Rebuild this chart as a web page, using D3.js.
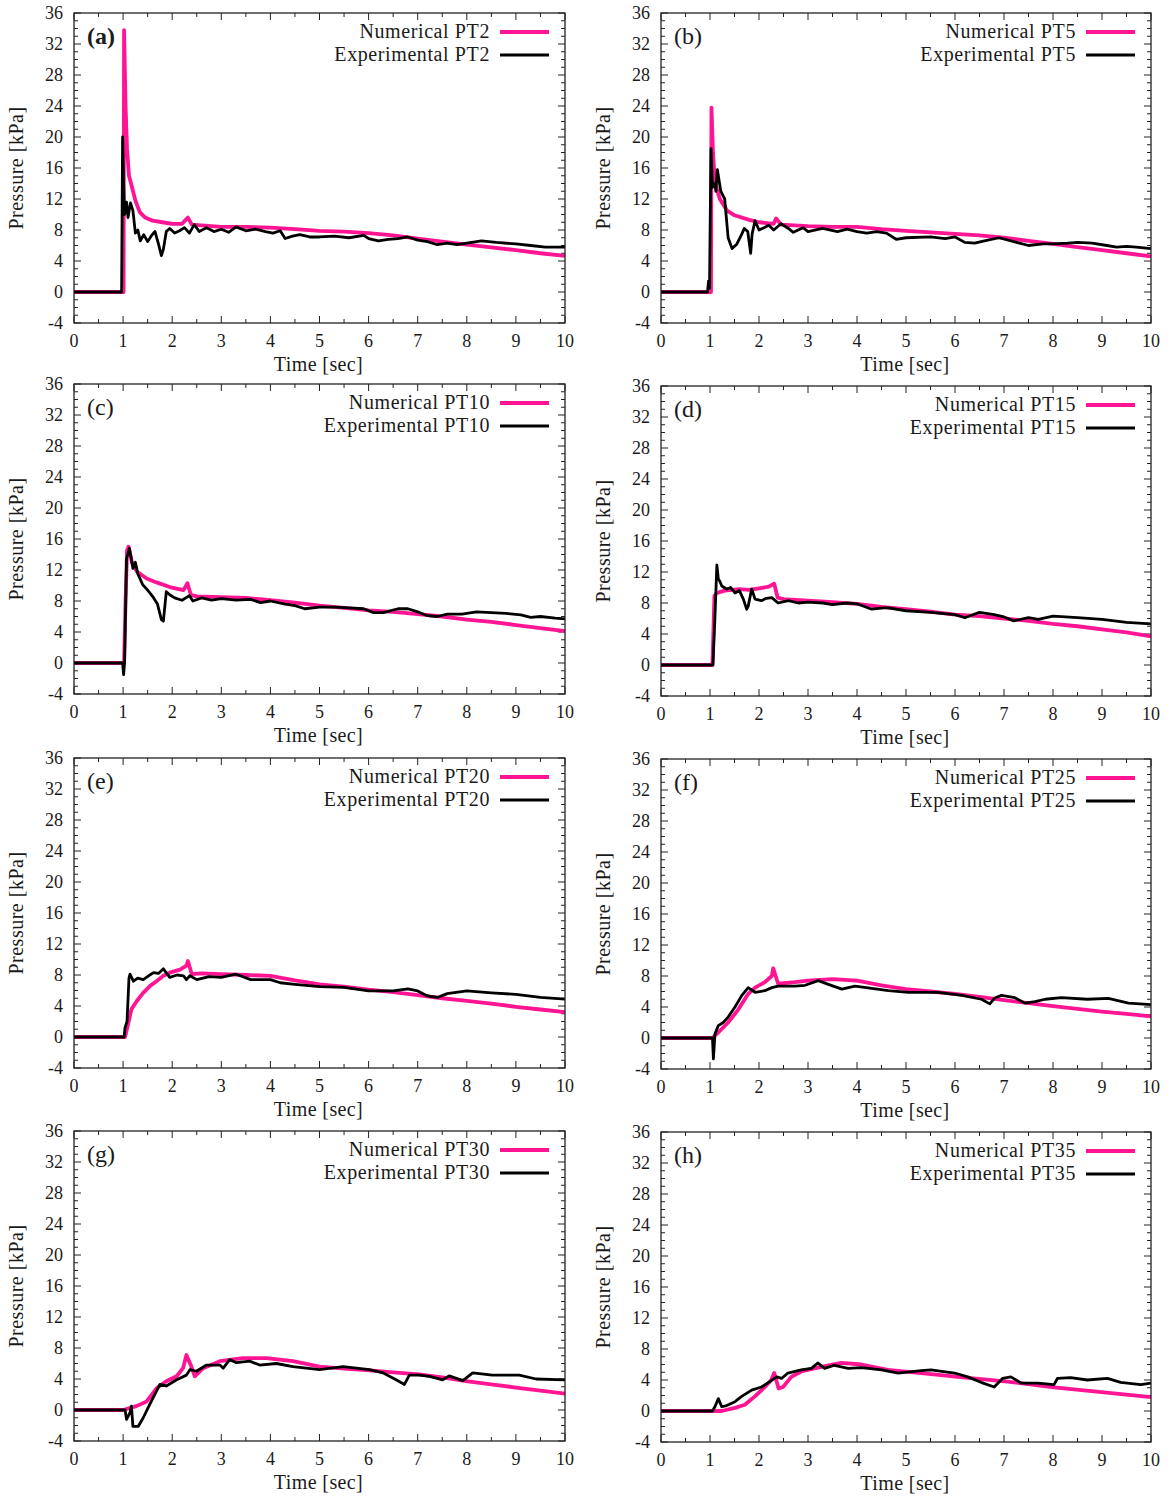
<!DOCTYPE html>
<html>
<head>
<meta charset="utf-8">
<script src="https://cdn.jsdelivr.net/npm/d3@7"></script>
<style>
  body { margin: 0; background: #fff; }
  svg text { font-family: "Liberation Serif", "Times New Roman", serif; fill: #1a1a1a; }
</style>
</head>
<body>
<svg width="1171" height="1497"></svg>
<script>
// ---- data: [time s, pressure kPa] ----
const panelLabels = ['(a)', '(b)', '(c)', '(d)', '(e)', '(f)', '(g)', '(h)'];
const probeNames = ['PT2', 'PT5', 'PT10', 'PT15', 'PT20', 'PT25', 'PT30', 'PT35'];
const xTicks = [0, 1, 2, 3, 4, 5, 6, 7, 8, 9, 10];
const yTicks = [-4, 0, 4, 8, 12, 16, 20, 24, 28, 32, 36];

const numPT2 = [[0,0],[1.0,0],[1.01,0],[1.02,33.8],[1.05,24],[1.08,18.5],[1.12,15],[1.17,13.8],[1.25,11.8],[1.34,10.3],[1.45,9.6],[1.6,9.2],[1.8,9.0],[2.0,8.8],[2.2,8.8],[2.32,9.6],[2.4,8.7],[2.6,8.6],[3.0,8.4],[3.5,8.4],[4.0,8.3],[4.5,8.1],[5.0,7.9],[5.5,7.8],[6.0,7.6],[6.5,7.3],[7.0,6.9],[7.5,6.5],[8.0,6.1],[8.5,5.75],[9.0,5.4],[9.5,5.0],[10.0,4.65]];
const expPT2 = [[0,0],[0.97,0],[0.99,20],[1.01,14],[1.03,10],[1.07,11.6],[1.1,9.6],[1.15,11.5],[1.2,10.5],[1.25,7.6],[1.3,8],[1.35,6.6],[1.42,7.4],[1.5,6.5],[1.58,7.3],[1.65,7.8],[1.72,6.2],[1.78,4.7],[1.82,5.5],[1.88,7.8],[1.95,8.2],[2.05,7.6],[2.15,7.9],[2.25,8.3],[2.35,7.6],[2.45,8.7],[2.55,7.8],[2.7,8.3],[2.85,7.8],[3.0,8.1],[3.15,7.7],[3.3,8.4],[3.5,7.9],[3.7,8.1],[3.9,7.8],[4.05,7.6],[4.2,7.9],[4.3,6.9],[4.45,7.2],[4.6,7.4],[4.8,7.1],[5.0,7.1],[5.3,7.2],[5.6,7.0],[5.9,7.3],[6.0,6.9],[6.2,6.6],[6.4,6.8],[6.6,6.9],[6.8,7.1],[7.0,6.7],[7.2,6.5],[7.4,6.1],[7.6,6.3],[7.8,6.1],[8.0,6.3],[8.3,6.6],[8.6,6.4],[9.0,6.2],[9.3,6.0],[9.6,5.8],[10.0,5.8]];
const numPT5 = [[0,0],[1.02,0],[1.03,23.8],[1.06,18],[1.1,14.2],[1.2,12],[1.35,10.5],[1.5,9.9],[1.8,9.3],[2.0,9.0],[2.3,8.8],[2.35,9.5],[2.45,8.7],[3.0,8.5],[3.5,8.4],[4.0,8.4],[4.5,8.1],[5.0,7.9],[5.5,7.7],[6.0,7.5],[6.5,7.3],[7.0,7.0],[7.5,6.6],[8.0,6.2],[8.5,5.8],[9.0,5.4],[9.5,5.0],[10.0,4.6]];
const expPT5 = [[0,0],[0.95,0],[0.97,1.4],[0.99,0.5],[1.02,18.5],[1.05,13.5],[1.1,14],[1.12,13],[1.15,15.8],[1.22,13],[1.3,12],[1.37,7],[1.45,5.6],[1.55,6.2],[1.65,7.5],[1.7,8.2],[1.77,7.8],[1.83,5.0],[1.86,7.5],[1.92,9.2],[2.0,8.0],[2.1,8.3],[2.2,8.6],[2.3,8.0],[2.45,8.8],[2.6,8.2],[2.7,7.7],[2.9,8.3],[3.0,7.8],[3.3,8.2],[3.6,7.8],[3.8,8.1],[4.0,7.8],[4.2,7.6],[4.4,7.8],[4.6,7.6],[4.8,6.8],[5.0,7.0],[5.5,7.1],[5.8,6.9],[6.0,7.1],[6.2,6.4],[6.4,6.3],[6.6,6.6],[6.9,7.0],[7.2,6.5],[7.5,6.0],[7.8,6.2],[8.0,6.2],[8.3,6.3],[8.5,6.4],[8.8,6.3],[9.1,6.0],[9.3,5.8],[9.5,5.9],[9.7,5.8],[10.0,5.6]];
const numPT10 = [[0,0],[1.02,0],[1.05,8],[1.08,14.5],[1.11,15],[1.18,13],[1.28,11.8],[1.48,10.9],[1.68,10.4],[1.95,9.8],[2.23,9.4],[2.31,10.3],[2.38,8.8],[2.5,8.6],[3.0,8.5],[3.5,8.4],[4.0,8.1],[4.5,7.8],[5.0,7.4],[5.5,7.1],[6.0,6.8],[6.5,6.6],[7.0,6.3],[7.5,6.0],[8.0,5.6],[8.5,5.3],[9.0,4.9],[9.5,4.5],[10.0,4.1]];
const expPT10 = [[0,0],[0.99,0],[1.01,-1.5],[1.03,0],[1.07,13.5],[1.13,14.8],[1.2,12.2],[1.25,13],[1.3,11.5],[1.4,10.1],[1.5,9.4],[1.6,8.6],[1.7,7.6],[1.78,5.6],[1.82,5.4],[1.88,9.2],[1.95,8.8],[2.05,8.4],[2.2,8.1],[2.35,8.7],[2.42,8.0],[2.6,8.4],[2.8,8.1],[3.0,8.3],[3.3,8.1],[3.6,8.2],[3.8,7.8],[4.0,8.0],[4.3,7.6],[4.5,7.4],[4.7,7.0],[5.0,7.2],[5.3,7.2],[5.6,7.1],[5.9,7.0],[6.1,6.5],[6.3,6.5],[6.6,7.0],[6.8,7.0],[7.0,6.6],[7.2,6.1],[7.4,6.0],[7.6,6.3],[7.9,6.3],[8.2,6.6],[8.5,6.5],[8.8,6.4],[9.1,6.2],[9.3,5.9],[9.5,6.0],[9.8,5.8],[10.0,5.7]];
const numPT15 = [[0,0],[1.05,0],[1.09,8.9],[1.14,9.3],[1.3,9.6],[1.6,9.8],[1.8,9.7],[2.0,9.9],[2.2,10.1],[2.31,10.5],[2.38,8.7],[2.5,8.5],[3.0,8.3],[3.5,8.1],[4.0,7.9],[4.5,7.5],[5.0,7.2],[5.5,6.9],[6.0,6.5],[6.5,6.3],[7.0,6.0],[7.5,5.7],[8.0,5.3],[8.5,5.0],[9.0,4.6],[9.5,4.2],[10.0,3.7]];
const expPT15 = [[0,0],[1.06,0],[1.1,6],[1.14,12.9],[1.17,11.1],[1.2,10.8],[1.24,10.2],[1.34,9.8],[1.42,10],[1.51,9.3],[1.6,9.6],[1.68,8.5],[1.75,7.2],[1.78,7.6],[1.85,9.8],[1.92,8.5],[2.05,8.3],[2.15,8.6],[2.26,8.7],[2.39,8.0],[2.6,8.3],[2.8,8.0],[3.0,8.1],[3.3,8.0],[3.5,7.8],[3.8,8.0],[4.0,7.9],[4.3,7.2],[4.6,7.4],[5.0,7.0],[5.5,6.8],[6.0,6.5],[6.2,6.1],[6.5,6.8],[6.8,6.5],[7.0,6.2],[7.2,5.7],[7.5,6.1],[7.7,5.9],[8.0,6.3],[8.5,6.1],[9.0,5.9],[9.5,5.5],[10.0,5.3]];
const numPT20 = [[0,0],[1.04,0],[1.11,1.9],[1.17,3.6],[1.28,4.65],[1.41,5.7],[1.55,6.6],[1.68,7.2],[1.82,7.9],[1.95,8.3],[2.16,8.7],[2.29,9.2],[2.32,9.8],[2.4,8.1],[2.6,8.2],[3.0,8.1],[3.5,8.0],[4.0,7.9],[4.5,7.3],[5.0,6.8],[5.5,6.5],[6.0,6.1],[6.5,5.8],[7.0,5.4],[7.5,5.0],[8.0,4.65],[8.5,4.3],[9.0,3.9],[9.5,3.55],[10.0,3.2]];
const expPT20 = [[0,0],[1.02,0],[1.04,1.2],[1.08,2],[1.12,7.6],[1.14,8.1],[1.21,7.2],[1.3,7.6],[1.41,7.4],[1.52,7.9],[1.62,8.3],[1.72,8.2],[1.82,8.8],[1.95,7.7],[2.1,8.0],[2.23,7.9],[2.29,7.4],[2.36,7.9],[2.5,7.4],[2.75,7.8],[3.0,7.7],[3.3,8.1],[3.6,7.4],[4.0,7.4],[4.2,7.0],[4.5,6.8],[5.0,6.5],[5.5,6.4],[6.0,5.95],[6.5,5.95],[6.8,6.2],[7.0,5.95],[7.2,5.3],[7.4,5.1],[7.6,5.6],[8.0,5.95],[8.5,5.7],[9.0,5.5],[9.5,5.1],[10.0,4.9]];
const numPT25 = [[0,0],[1.05,0],[1.17,0.73],[1.37,2.0],[1.58,3.7],[1.78,5.7],[1.92,6.5],[2.12,7.2],[2.26,8.0],[2.29,9.0],[2.39,7.0],[2.73,7.2],[3.0,7.4],[3.5,7.6],[4.0,7.4],[4.5,6.8],[5.0,6.3],[5.5,6.0],[6.0,5.7],[6.5,5.3],[7.0,4.9],[7.5,4.5],[8.0,4.1],[8.5,3.75],[9.0,3.4],[9.5,3.1],[10.0,2.8]];
const expPT25 = [[0,0],[1.05,0],[1.07,-2.7],[1.1,0.5],[1.17,1.6],[1.27,2.0],[1.37,2.7],[1.51,4.0],[1.65,5.5],[1.78,6.5],[1.92,5.9],[2.12,6.1],[2.26,6.5],[2.39,6.7],[2.73,6.7],[2.94,6.8],[3.21,7.4],[3.4,6.95],[3.69,6.3],[3.96,6.7],[4.3,6.4],[4.64,6.1],[5.05,5.9],[5.66,5.9],[6.14,5.5],[6.54,5.0],[6.71,4.4],[6.82,5.2],[6.95,5.5],[7.22,5.2],[7.43,4.5],[7.63,4.7],[7.84,5.0],[8.17,5.2],[8.7,5.0],[9.13,5.1],[9.54,4.5],[10.0,4.3]];
const numPT30 = [[0,0],[1.0,0],[1.27,0.5],[1.48,1.1],[1.68,2.8],[1.88,3.7],[2.09,4.35],[2.22,5.4],[2.29,7.1],[2.39,5.6],[2.46,4.35],[2.63,5.4],[2.97,6.3],[3.44,6.7],[3.92,6.7],[4.46,6.3],[5.0,5.6],[5.5,5.35],[6.02,5.1],[6.5,4.85],[7.03,4.6],[7.5,4.2],[8.02,3.7],[8.5,3.3],[9.0,2.9],[9.5,2.5],[10.0,2.1]];
const expPT30 = [[0,0],[1.04,0],[1.07,-1.2],[1.14,-0.35],[1.17,0.5],[1.2,-2.1],[1.31,-2.1],[1.41,-1.0],[1.54,0.7],[1.75,3.3],[1.88,3.1],[2.09,3.9],[2.29,4.5],[2.36,5.2],[2.49,5.0],[2.7,5.8],[2.97,5.8],[3.04,5.4],[3.17,6.5],[3.31,6.1],[3.58,6.3],[3.78,5.8],[4.12,6.0],[4.46,5.6],[5.0,5.2],[5.48,5.6],[6.02,5.2],[6.29,4.8],[6.56,3.9],[6.73,3.3],[6.83,4.5],[7.03,4.5],[7.24,4.35],[7.51,3.9],[7.64,4.4],[7.92,3.8],[8.12,4.8],[8.52,4.5],[9.07,4.5],[9.41,4.0],[10.0,3.9]];
const numPT35 = [[0,0],[1.05,0],[1.24,0],[1.51,0.4],[1.71,0.8],[1.91,1.85],[2.12,3.1],[2.25,4.0],[2.31,4.9],[2.4,2.9],[2.49,3.1],[2.66,4.4],[2.86,5.1],[3.27,5.7],[3.68,6.2],[4.09,6.0],[4.63,5.3],[5.31,4.9],[6.06,4.4],[7.07,3.8],[8.02,3.06],[9.04,2.4],[10.0,1.8]];
const expPT35 = [[0,0],[1.05,0],[1.1,0.55],[1.17,1.6],[1.24,0.55],[1.34,0.7],[1.51,1.2],[1.64,1.85],[1.85,2.7],[2.05,3.1],[2.22,3.8],[2.36,4.4],[2.46,4.2],[2.59,4.9],[2.86,5.3],[3.07,5.5],[3.2,6.2],[3.34,5.5],[3.54,5.9],[3.82,5.5],[4.09,5.6],[4.5,5.3],[4.84,4.9],[5.31,5.2],[5.51,5.3],[5.99,4.9],[6.26,4.4],[6.53,3.7],[6.8,3.1],[6.97,4.2],[7.14,4.4],[7.35,3.6],[7.69,3.6],[8.02,3.4],[8.09,4.2],[8.36,4.3],[8.7,4.0],[9.11,4.2],[9.38,3.7],[9.79,3.4],[10.0,3.6]];

const numerical = [numPT2, numPT5, numPT10, numPT15, numPT20, numPT25, numPT30, numPT35];
const experimental = [expPT2, expPT5, expPT10, expPT15, expPT20, expPT25, expPT30, expPT35];

const svg = d3.select('svg');
const pink = '#ff1493';

// panel frames (left column / right column), each 310 tall
const colX = [[74, 565], [661, 1151]];
const rowTop = [[13, 13], [384, 386], [758, 759], [1131, 1132]];
const plotH = 310;

panelLabels.forEach((lab, i) => {
  const col = i % 2, row = Math.floor(i / 2);
  const [x0, x1] = colX[col];
  const top = rowTop[row][col];
  const x = d3.scaleLinear().domain([0, 10]).range([x0, x1]);
  const y = d3.scaleLinear().domain([-4, 36]).range([top + plotH, top]);
  const g = svg.append('g');

  // minor + major ticks, mirrored on all sides, pointing inward
  const xMinor = d3.range(0.5, 10, 1);
  const yMinor = d3.range(-4, 37, 1).filter(v => (v + 4) % 4 !== 0);
  const tick = (x1_, y1_, x2_, y2_) => g.append('line')
    .attr('x1', x1_).attr('y1', y1_).attr('x2', x2_).attr('y2', y2_)
    .attr('stroke', '#222').attr('stroke-width', 1);
  xTicks.forEach(v => { tick(x(v), top + plotH, x(v), top + plotH - 7); tick(x(v), top, x(v), top + 7); });
  xMinor.forEach(v => { tick(x(v), top + plotH, x(v), top + plotH - 4); tick(x(v), top, x(v), top + 4); });
  yTicks.forEach(v => { tick(x0, y(v), x0 + 7, y(v)); tick(x1, y(v), x1 - 7, y(v)); });
  yMinor.forEach(v => { tick(x0, y(v), x0 + 4, y(v)); tick(x1, y(v), x1 - 4, y(v)); });

  // tick labels
  g.selectAll('.xl').data(xTicks).join('text')
    .attr('x', d => x(d)).attr('y', top + plotH + 24)
    .attr('text-anchor', 'middle').attr('font-size', 18).text(d => d);
  g.selectAll('.yl').data(yTicks).join('text')
    .attr('x', x0 - 11).attr('y', d => y(d) + 6)
    .attr('text-anchor', 'end').attr('font-size', 18).text(d => d);

  // axis titles
  g.append('text').attr('x', (x0 + x1) / 2 - 1).attr('y', top + plotH + 48)
    .attr('text-anchor', 'middle').attr('font-size', 20).attr('letter-spacing', 0.4).text('Time [sec]');
  g.append('text')
    .attr('transform', `translate(${x0 - 51},${top + plotH / 2}) rotate(-90)`)
    .attr('text-anchor', 'middle').attr('font-size', 20).attr('letter-spacing', 0.5).text('Pressure [kPa]');

  // curves
  const line = d3.line().x(d => x(d[0])).y(d => y(d[1]));
  g.append('path').datum(numerical[i]).attr('d', line)
    .attr('fill', 'none').attr('stroke', pink).attr('stroke-width', 3.8)
    .attr('stroke-linejoin', 'round');
  g.append('path').datum(experimental[i]).attr('d', line)
    .attr('fill', 'none').attr('stroke', '#000').attr('stroke-width', 2.8)
    .attr('stroke-linejoin', 'round');

  // frame
  g.append('rect').attr('x', x0).attr('y', top).attr('width', x1 - x0).attr('height', plotH)
    .attr('fill', 'none').attr('stroke', '#222').attr('stroke-width', 1.3);

  // panel label
  g.append('text').attr('x', x0 + 13).attr('y', top + 31)
    .attr('font-size', 24).attr('font-weight', i === 0 ? 'bold' : 'normal').text(lab);

  // legend
  const legend = [
    { name: 'Numerical ' + probeNames[i], color: pink, w: 3.8 },
    { name: 'Experimental ' + probeNames[i], color: '#000', w: 2.8 }
  ];
  legend.forEach((d, k) => {
    const ly = top + 19 + k * 23;
    g.append('text').attr('x', x1 - 75).attr('y', ly + 6)
      .attr('text-anchor', 'end').attr('font-size', 20).attr('letter-spacing', 0.6).text(d.name);
    g.append('line').attr('x1', x1 - 65).attr('x2', x1 - 16).attr('y1', ly).attr('y2', ly)
      .attr('stroke', d.color).attr('stroke-width', d.w);
  });
});
</script>
</body>
</html>
